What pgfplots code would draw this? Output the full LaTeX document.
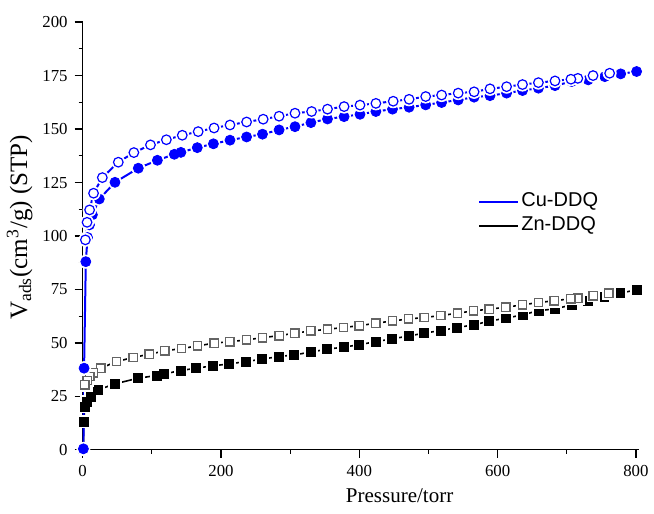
\documentclass[border=0pt]{standalone}
\usepackage{pgfplots}
\usepackage{pgfplotstable}
\pgfplotsset{compat=1.18}
\usepackage{fontspec}
\setmainfont{Liberation Serif}
\setsansfont{Liberation Sans}
\definecolor{cublue}{RGB}{0,0,255}
\definecolor{opengray}{RGB}{100,100,100}

\pgfplotstableread{
x y
1 0.5
2 38.2
4.5 88.0
7 99.3
9.8 105.2
14 109.9
24 117.3
46.7 125.1
80.4 131.7
108 135.4
132.5 138.2
142 139.1
165.7 141.3
189 143.1
213 144.8
237 146.3
260 147.6
284 149.6
307 151.1
330 153.0
354 154.7
378 155.8
401 156.9
424 158.2
448 159.3
472 160.2
496 161.3
519 162.4
543 163.6
566 164.9
589 165.6
613 166.8
636 168.0
659 169.1
683 170.3
707 172.2
731 173.0
755 174.5
778 175.8
801 176.9
}\cuads

\pgfplotstableread{
x y
762 176.1
738 175.0
716 173.7
706 173.3
683 172.5
659 171.7
636 170.8
613 169.8
589 168.8
566 167.4
543 166.8
519 165.9
496 165.2
472 163.9
449 163.0
424 162.0
401 161.2
378 160.5
354 159.3
331 158.2
307 157.4
284 156.0
261 154.6
237 153.3
213 151.9
190 150.5
167 148.8
144 147.1
121 145.0
98 142.6
74 139.0
51.5 134.5
28.4 127.3
15.7 120.0
10 112.2
6.3 106.4
3.9 98.2
}\cudes

\pgfplotstableread{
x y
1 0.5
1.5 13.2
3.3 20.3
6 22.6
11.5 24.9
22.6 28.1
46.7 30.9
80 33.5
107 34.8
117.5 35.5
141.7 37.1
164 38.2
188 39.3
212 40.2
236 41.3
259 42.4
283 43.6
305 44.4
330 45.7
353 47.1
377 48.0
400 49.2
424 50.6
447 51.9
471 53.2
494 54.6
518 55.8
541 57.2
565 58.4
588 60.2
612 61.6
636 63.1
659 65.1
683 65.9
707 67.8
730 69.8
754 71.4
777 73.3
801 74.8
}\znads

\pgfplotstableread{
x y
761 73.3
738 72.1
716 71.0
706 70.7
682 69.7
659 68.9
636 67.8
612 66.7
588 65.8
565 65.0
542 63.9
518 62.8
494 61.9
471 61.2
448 60.3
424 59.2
400 58.1
377 57.2
354 56.4
330 55.6
307 54.6
284 53.4
260 52.5
237 51.4
213 50.6
190 49.9
166 48.6
143 47.4
119 46.3
96 44.7
73 43.2
49 41.3
26 38.2
15.3 36.1
10.5 34.3
6.7 32.4
3.3 30.4
}\zndes

\begin{document}
\begin{tikzpicture}
\begin{axis}[
  scale only axis,
  width=278pt, height=213.9pt,
  xmin=0, xmax=804, ymin=0, ymax=200,
  axis lines=left,
  axis line style={-, line width=0.6pt},
  xtick={0,200,...,800},
  ytick={0,25,...,200},
  minor x tick num=1,
  minor y tick num=1,
  tick align=outside,
  major tick length=4pt,
  minor tick length=2pt,
  tick style={black, line width=0.6pt},
  /pgf/number format/assume math mode=true,
  ticklabel style={font=\fontsize{8.4}{9}\selectfont},
  xlabel={Pressure/torr},
  ylabel={V\textsubscript{ads}(cm\textsuperscript{3}/g) (STP)},
  xlabel style={at={(axis description cs:0.57,-0.0888)}, anchor=north, inner sep=0pt, font=\fontsize{10.5}{12}\selectfont},
  ylabel style={at={(axis description cs:-0.0894,0.52)}, anchor=south, inner sep=0pt, font=\fontsize{12.5}{14}\selectfont},
  legend image code/.code={\draw[#1] (0pt,0pt) -- (19.5pt,0pt);},
  legend style={draw=none, fill=none, at={(rel axis cs:0.711,0.552)}, anchor=west,
    inner sep=0pt, row sep=0pt,
    nodes={inner sep=1pt, text height=7.5pt, text depth=2.5pt},
    font=\sffamily\fontsize{10}{12}\selectfont},
  legend cell align=left,
]
% Zn adsorption
\addplot[black, line width=0.8pt, forget plot] table[x=x,y=y] {\znads};
\addplot[only marks, mark=square*, mark size=3.05pt, white, forget plot] table[x=x,y=y] {\znads};
\addplot[only marks, mark=square*, mark size=2.25pt, black, forget plot] table[x=x,y=y] {\znads};
% Zn desorption
\addplot[black, line width=0.8pt, forget plot] table[x=x,y=y] {\zndes};
\addplot[only marks, mark=square*, mark size=3.05pt, white, forget plot] table[x=x,y=y] {\zndes};
\addplot[only marks, mark=square*, mark size=2.1pt, mark options={draw=opengray, fill=white, line width=0.7pt}, forget plot] table[x=x,y=y] {\zndes};
% Cu adsorption
\addplot[cublue, line width=1pt, forget plot] table[x=x,y=y] {\cuads};
\addplot[only marks, mark=*, mark size=3.3pt, white, forget plot] table[x=x,y=y] {\cuads};
\addplot[only marks, mark=*, mark size=2.5pt, cublue, forget plot] table[x=x,y=y] {\cuads};
% Cu desorption
\addplot[cublue, line width=1pt, forget plot] table[x=x,y=y] {\cudes};
\addplot[only marks, mark=*, mark size=3.3pt, white, forget plot] table[x=x,y=y] {\cudes};
\addplot[only marks, mark=*, mark size=2.4pt, mark options={draw=cublue, fill=white, line width=0.6pt}, forget plot] table[x=x,y=y] {\cudes};
\addlegendimage{cublue, line width=1pt}
\addlegendentry{Cu-DDQ}
\addlegendimage{black, line width=1pt}
\addlegendentry{Zn-DDQ}
\end{axis}
\pgfresetboundingbox
\useasboundingbox (-41.35pt,-32pt) rectangle (285.65pt,224.95pt);
\end{tikzpicture}
\end{document}
